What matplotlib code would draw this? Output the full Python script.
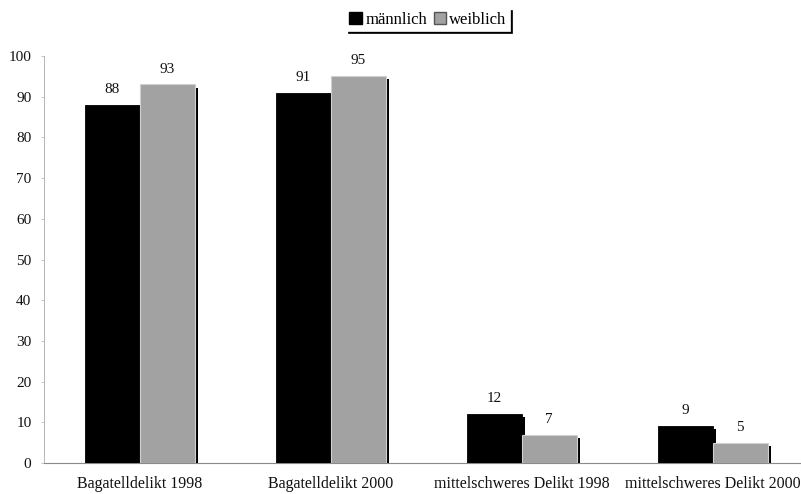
import matplotlib
matplotlib.use("Agg")
import matplotlib.pyplot as plt
import matplotlib.patheffects as pe
from matplotlib.patches import Patch
import numpy as np

categories = ["Bagatelldelikt 1998", "Bagatelldelikt 2000",
              "mittelschweres Delikt 1998", "mittelschweres Delikt 2000"]
maennlich = [88, 91, 12, 9]
weiblich = [93, 95, 7, 5]
series_names = ["männlich", "weiblich"]
yticks = [0, 10, 20, 30, 40, 50, 60, 70, 80, 90, 100]

plt.rcParams["font.family"] = ["Liberation Serif", "DejaVu Serif"]

W, H = 801, 494
fig = plt.figure(figsize=(W / 100, H / 100), dpi=100)
fig.patch.set_facecolor("white")

# axes spans slightly past the right figure edge so the baseline runs to the border
left_px, right_px = 44.0, 808.0
top_px, bottom_px = 56, 463
ax = fig.add_axes([left_px / W, (H - bottom_px) / H,
                   (right_px - left_px) / W, (bottom_px - top_px) / H])

x = np.arange(len(categories)) + 0.5
bw = 55 / 191.0

shadow = [pe.SimplePatchShadow(offset=(2.2, -2.2), shadow_rgbFace="black", alpha=1.0), pe.Normal()]

b1 = ax.bar(x - bw / 2, maennlich, width=bw, color="black", edgecolor="black",
            linewidth=0.6, zorder=3)
b2 = ax.bar(x + bw / 2, weiblich, width=bw, color="#a2a2a2", edgecolor="#d0d0d0",
            linewidth=0.8, zorder=3)
for bars in (b1, b2):
    for p in bars:
        p.set_path_effects(shadow)

for xi, v in zip(x - bw / 2, maennlich):
    ax.text(xi, v + 2.2, str(v), ha="center", va="bottom", fontsize=11, color="#111111")
for xi, v in zip(x + bw / 2, weiblich):
    ax.text(xi, v + 2.2, str(v), ha="center", va="bottom", fontsize=11, color="#111111")

ax.set_xlim(0, len(categories))
ax.set_ylim(0, 100)
ax.set_yticks(yticks)
ax.set_yticklabels([str(t) for t in yticks], fontsize=11, color="#111111")
ax.set_xticks(x)
ax.set_xticklabels(categories, fontsize=11.5, color="#111111")
ax.tick_params(axis="x", length=0, pad=9)
ax.tick_params(axis="y", length=2, width=0.6, color="#bbbbbb", pad=7)

for s in ("top", "right"):
    ax.spines[s].set_visible(False)
ax.spines["left"].set_color("#b5b5b5")
ax.spines["left"].set_linewidth(0.7)
ax.spines["bottom"].set_color("#8a8a8a")
ax.spines["bottom"].set_linewidth(0.8)

handles = [Patch(facecolor="black", edgecolor="black"),
           Patch(facecolor="#a2a2a2", edgecolor="#555555")]
leg = fig.legend(handles, series_names, loc="center", bbox_to_anchor=(428 / W, (H - 20) / H),
                 ncol=2, fontsize=12, frameon=True, fancybox=False,
                 edgecolor="white", handlelength=0.75, handleheight=0.75,
                 handletextpad=0.2, columnspacing=0.4, borderpad=0.2,
                 shadow={"color": "black", "alpha": 1.0, "ox": 1.2, "oy": -1.2})
leg.get_frame().set_linewidth(0.5)

fig.savefig("out.png", dpi=100, facecolor="white")
